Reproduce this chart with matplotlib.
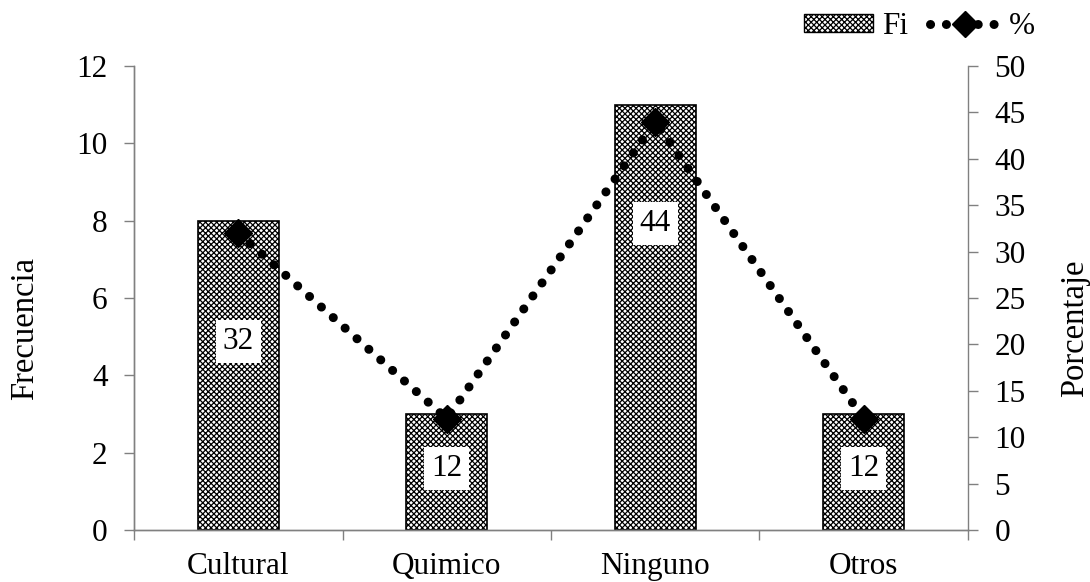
import matplotlib
matplotlib.use("Agg")
import matplotlib.pyplot as plt
from matplotlib.lines import Line2D
from matplotlib.patches import Patch
import numpy as np

categories = ["Cultural", "Quimico", "Ninguno", "Otros"]
fi = [8, 3, 11, 3]
pct = [32, 12, 44, 12]
left_ticks = [0, 2, 4, 6, 8, 10, 12]
right_ticks = [0, 5, 10, 15, 20, 25, 30, 35, 40, 45, 50]

plt.rcParams['font.family'] = ['Liberation Serif', 'DejaVu Serif']
plt.rcParams['hatch.linewidth'] = 0.9
FS = 22.5

fig = plt.figure(figsize=(10.9, 5.82), dpi=100)
ax = fig.add_axes([0.123, 0.0893, 0.765, 0.7973])
ax2 = ax.twinx()

x = np.arange(len(categories))
bars = ax.bar(x, fi, width=0.39, facecolor='white', edgecolor='black',
              hatch='xxxxxx', linewidth=1.2, zorder=2)
ax.set_xlim(-0.5, len(categories) - 0.5)
ax.set_ylim(0, 12)
ax.set_yticks(left_ticks)
ax.set_xticks(x)
ax.set_xticklabels(categories, fontsize=FS)
ax.set_xticks(np.arange(-0.5, len(categories)), minor=True)
ax.tick_params(axis='x', which='major', length=0, pad=16)
ax.tick_params(axis='x', which='minor', length=7, color='#808080', width=1)
ax.tick_params(axis='y', labelsize=FS, length=7, color='#808080', width=1, pad=12)
ax.set_ylabel("Frecuencia", fontsize=23.5)
ax.yaxis.set_label_coords(-0.113, 0.435)

# value labels inside bars (percentages)
label_frac = [0.61, 0.53, 0.72, 0.53]
for xi, f, p, lf in zip(x, fi, pct, label_frac):
    ax.text(xi, f * lf, f"{p}", ha='center', va='center', fontsize=FS,
            bbox=dict(facecolor='white', edgecolor='none', pad=5), zorder=3)

dots = (0, (0.01, 1.75))
ax2.plot(x, pct, color='black', linestyle=dots, linewidth=6.5,
         dash_capstyle='round', marker='D', markersize=14, zorder=4)
ax2.set_ylim(0, 50)
ax2.set_yticks(right_ticks)
ax2.tick_params(axis='y', labelsize=FS, length=7, color='#808080', width=1, pad=12)
ax2.set_ylabel("Porcentaje", fontsize=23.5)
ax2.yaxis.set_label_coords(1.11, 0.435)

for a in (ax, ax2):
    a.spines['top'].set_visible(False)
    for s in ('left', 'right', 'bottom'):
        a.spines[s].set_color('#808080')
        a.spines[s].set_linewidth(1)
ax.spines['right'].set_visible(False)

handles = [Patch(facecolor='white', edgecolor='black', hatch='xxxxxx', linewidth=1.0),
           Line2D([0], [0], color='black', linestyle=dots, linewidth=6.5,
                  dash_capstyle='round', marker='D', markersize=13)]
fig.legend(handles, ["Fi", "%"], loc='upper right', bbox_to_anchor=(0.975, 1.027),
           ncol=2, frameon=False, fontsize=FS, handlelength=2.2, handleheight=0.5,
           columnspacing=0.7, handletextpad=0.3)

fig.savefig("out.png", dpi=100)
